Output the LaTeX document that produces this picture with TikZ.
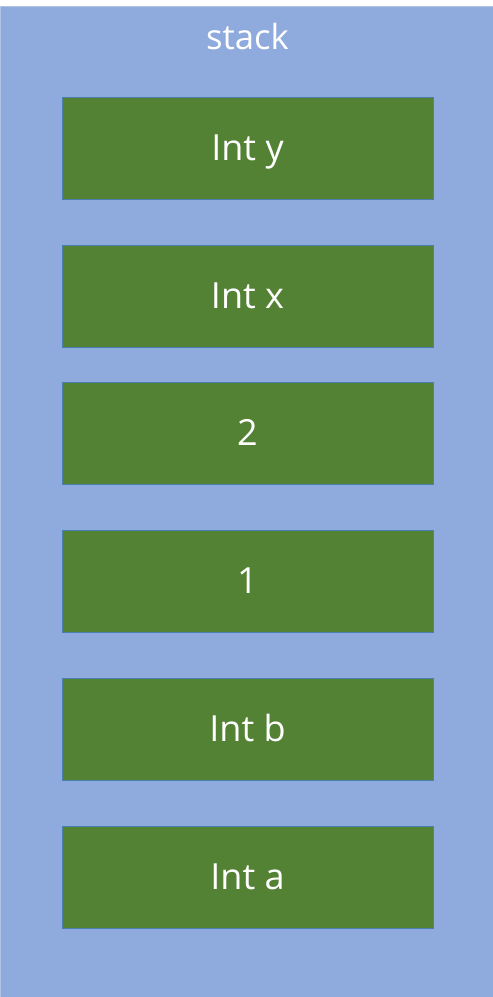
\documentclass[tikz,border=0pt]{standalone}
\usepackage{fontspec}
\setmainfont{Open Sans}
\usepackage{tikz}
\usetikzlibrary{positioning}
\definecolor{stackblue}{HTML}{8FAADC}
\definecolor{cellgreen}{HTML}{548235}
\definecolor{celledge}{HTML}{4A7FB0}
\tikzstyle{cell} = [draw=celledge, line width=0.6pt, fill=cellgreen, text=white,
    minimum width=371*0.75pt, minimum height=102*0.75pt, inner sep=0pt,
    text height=19.3pt, text depth=0pt,
    font=\fontsize{27}{30}\selectfont]

\begin{document}
\begin{tikzpicture}[x=0.75pt,y=-0.75pt]
    \useasboundingbox (0,0) rectangle (493,997);
    \path[fill=stackblue, draw=stackblue!70!white, line width=0.6pt] (0,6) rectangle (493,1000);
    \node[text=white, anchor=base, font=\fontsize{26}{30}\selectfont] (stk) at (247.5,49) {stack};

    \foreach \y/\t/\n in {148/Int y/iy, 296/Int x/ix, 433/2/two, 581/1/one, 729/Int b/ib, 877/Int a/ia}
    {
        \node[cell] (\n) at (247.5,\y) {\t};
    };
\end{tikzpicture}
\end{document}
